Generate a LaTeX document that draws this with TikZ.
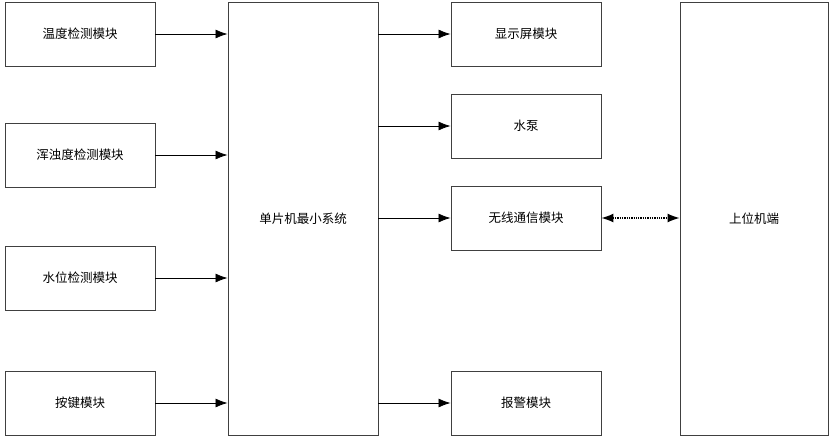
\documentclass[tikz,border=0pt]{standalone}
\usepackage{fontspec}
\newfontfamily\cjkfont{Noto Sans CJK SC}
\usetikzlibrary{arrows.meta,positioning}

\begin{document}
\begin{tikzpicture}[
    x=1pt, y=-1pt,
    every node/.style={font=\cjkfont\fontsize{12.5}{14}\selectfont},
    modbox/.style={draw=black!75, fill=white, line width=0.9pt, minimum width=150pt,
                   minimum height=64pt, inner sep=0pt, align=center},
    bigbox/.style={draw=black!75, fill=white, line width=0.9pt, minimum width=150pt,
                   minimum height=433pt, inner sep=0pt, align=center},
    arr/.style={-{Latex[length=12pt,width=9pt]}, line width=0.8pt},
    darr/.style={{Latex[length=12pt,width=9pt]}-{Latex[length=12pt,width=9pt]},
                 line width=1.3pt, densely dotted}
  ]
  \useasboundingbox (0,0) rectangle (836,442);

  % Left: sensor and key modules
  \node[modbox] (temp) at (80,34) {温度检测模块};
  \node[modbox] (turb) at (80,155) {浑浊度检测模块};
  \node[modbox] (level) at (80,278) {水位检测模块};
  \node[modbox] (key) at (80,403) {按键模块};

  % Middle: MCU
  \node[bigbox] (mcu) at (303,218.5) {单片机最小系统};

  % Right: output modules
  \node[modbox] (disp) at (526,34) {显示屏模块};
  \node[modbox] (pump) at (526,126) {水泵};
  \node[modbox] (wifi) at (526,218) {无线通信模块};
  \node[modbox] (alarm) at (526,403) {报警模块};

  % Far right: host computer
  \node[bigbox, minimum width=148pt] (host) at (754,218.5) {上位机端};

  % Inputs to MCU
  \draw[arr] (temp.east) -- (temp.east -| mcu.west);
  \draw[arr] (turb.east) -- (turb.east -| mcu.west);
  \draw[arr] (level.east) -- (level.east -| mcu.west);
  \draw[arr] (key.east) -- (key.east -| mcu.west);

  % MCU to outputs
  \draw[arr] (disp.west -| mcu.east) -- (disp.west);
  \draw[arr] (pump.west -| mcu.east) -- (pump.west);
  \draw[arr] (wifi.west -| mcu.east) -- (wifi.west);
  \draw[arr] (alarm.west -| mcu.east) -- (alarm.west);

  % Wireless link
  \draw[darr] (wifi.east) -- (wifi.east -| host.west);
\end{tikzpicture}
\end{document}
